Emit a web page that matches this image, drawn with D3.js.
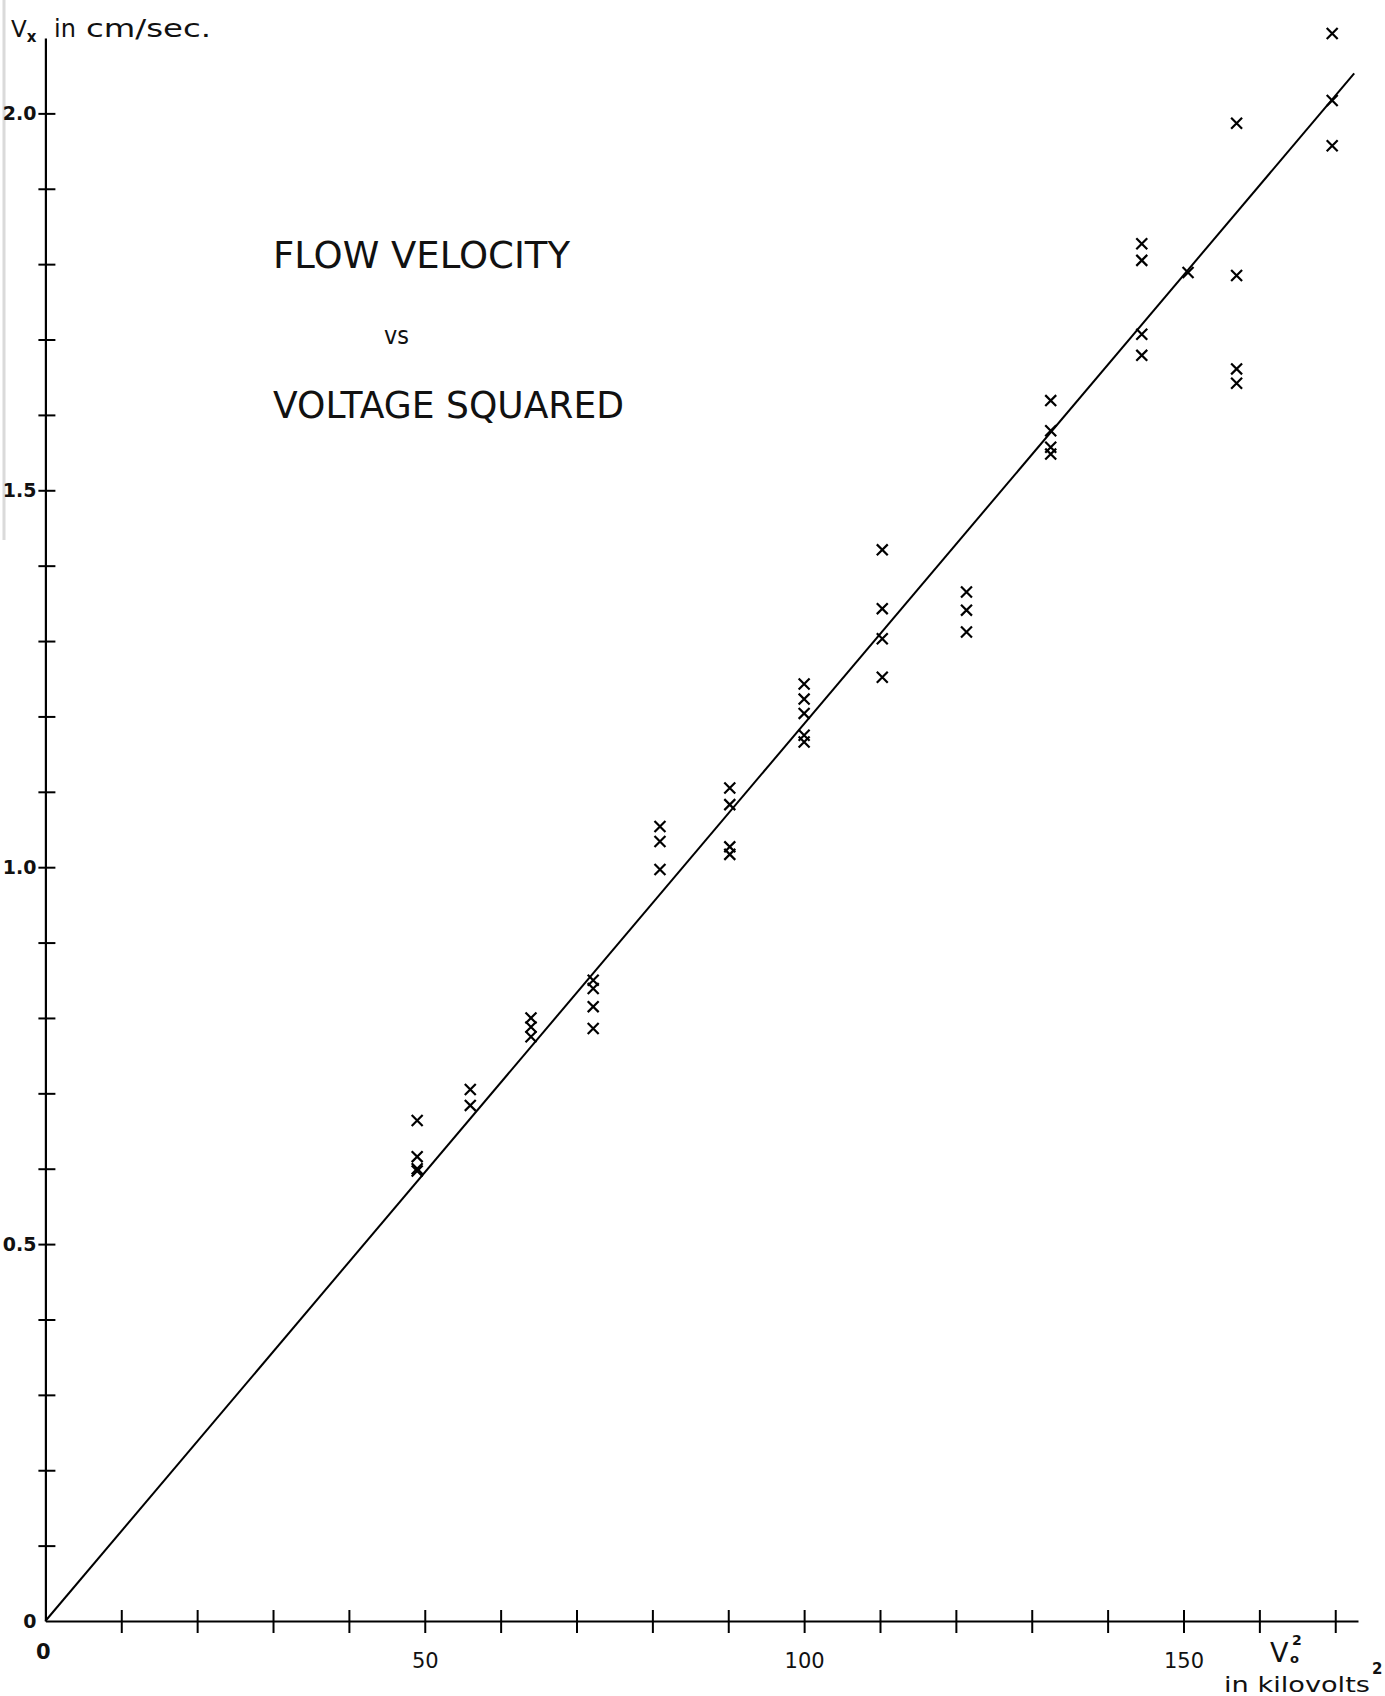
<!DOCTYPE html>
<html>
<head>
<meta charset="utf-8">
<script src="https://cdn.jsdelivr.net/npm/d3@7"></script>
<style>
  html, body { margin: 0; padding: 0; background: #fff; }
  svg { display: block; }
</style>
</head>
<body>
<svg id="chart" width="1385" height="1696"></svg>
<script>
// ---- data ----
const voltageSq = [
  49, 49, 49, 49,
  56, 56,
  64, 64, 64,
  72.2, 72.2, 72.2, 72.2,
  81, 81, 81,
  90.2, 90.2, 90.2, 90.2,
  100, 100, 100, 100, 100,
  110.3, 110.3, 110.3, 110.3,
  121.4, 121.4, 121.4,
  132.5, 132.5, 132.5, 132.5,
  144.5, 144.5, 144.5, 144.5,
  150.6,
  157, 157, 157, 157,
  169.6, 169.6, 169.6
];
const velocity = [
  0.664, 0.616, 0.600, 0.597,
  0.705, 0.684,
  0.800, 0.788, 0.775,
  0.850, 0.839, 0.815, 0.786,
  1.054, 1.034, 0.997,
  1.105, 1.083, 1.027, 1.017,
  1.243, 1.223, 1.204, 1.175, 1.166,
  1.421, 1.343, 1.303, 1.252,
  1.365, 1.341, 1.312,
  1.619, 1.579, 1.557, 1.548,
  1.827, 1.805, 1.707, 1.679,
  1.789,
  1.987, 1.785, 1.661, 1.642,
  2.106, 2.017, 1.957
];
const fitX = [0, 172.5];
const fitY = [0, 2.053];

const xTickValues = [0, 10, 20, 30, 40, 50, 60, 70, 80, 90, 100, 110, 120, 130, 140, 150, 160, 170];
const xTickLabels = {50: "50", 100: "100", 150: "150"};
const yTickValues = [0, 0.1, 0.2, 0.3, 0.4, 0.5, 0.6, 0.7, 0.8, 0.9, 1.0, 1.1, 1.2, 1.3, 1.4, 1.5, 1.6, 1.7, 1.8, 1.9, 2.0];
const yTickLabels = {0: "0", 0.5: "0.5", 1: "1.0", 1.5: "1.5", 2: "2.0"};

const titleLines = ["FLOW VELOCITY", "vs", "VOLTAGE SQUARED"];

// ---- layout ----
const svg = d3.select("#chart");
const font = "'DejaVu Sans', sans-serif";

const x = d3.scaleLinear().domain([0, 173]).range([45.4, 1358]);
const y = d3.scaleLinear().domain([0, 2.1]).range([1621, 38]);

// scan-edge shadow
svg.append("line").attr("x1", 4).attr("x2", 4).attr("y1", 0).attr("y2", 540)
  .attr("stroke", "#dadada").attr("stroke-width", 3);

// x axis
const xAxis = d3.axisBottom(x).tickValues(xTickValues)
  .tickFormat(d => xTickLabels[d] || "").tickSizeOuter(0);
const gx = svg.append("g").attr("transform", `translate(0,${y(0)})`).call(xAxis);
gx.select(".domain").attr("stroke", "#000").attr("stroke-width", 2.2);
gx.selectAll(".tick line").attr("y1", -11).attr("y2", 12)
  .attr("stroke", "#000").attr("stroke-width", 2)
  .filter(d => d === 0).remove();
gx.selectAll(".tick text").attr("y", 32).attr("dy", "0.71em")
  .attr("font-family", font).attr("font-size", 21).attr("fill", "#111");

// y axis
const yAxis = d3.axisLeft(y).tickValues(yTickValues)
  .tickFormat(d => yTickLabels[Math.round(d * 10) / 10] || "").tickSizeOuter(0);
const gy = svg.append("g").attr("transform", `translate(${x(0)},0)`).call(yAxis);
gy.select(".domain").attr("stroke", "#000").attr("stroke-width", 2.2);
gy.selectAll(".tick line").attr("x1", -7).attr("x2", 10)
  .attr("stroke", "#000").attr("stroke-width", 2)
  .filter(d => d === 0).remove();
gy.selectAll(".tick text").attr("x", -9)
  .attr("font-family", font).attr("font-size", 19).attr("font-weight", "bold").attr("fill", "#111");

// origin "0" under the x axis
svg.append("text").attr("x", x(0) - 2).attr("y", y(0) + 38)
  .attr("text-anchor", "middle").attr("font-family", font).attr("font-size", 21)
  .attr("font-weight", "bold").attr("fill", "#111").text("0");

// fit line
const line = d3.line().x(d => x(d[0])).y(d => y(d[1]));
svg.append("path").datum(fitX.map((v, i) => [v, fitY[i]]))
  .attr("d", line).attr("fill", "none").attr("stroke", "#000").attr("stroke-width", 2);

// data marks
const sym = d3.symbol().type(d3.symbolTimes).size(80);
svg.append("g").selectAll("path").data(voltageSq.map((v, i) => [v, velocity[i]]))
  .join("path")
  .attr("transform", d => `translate(${x(d[0])},${y(d[1])})`)
  .attr("d", sym).attr("fill", "none").attr("stroke", "#000").attr("stroke-width", 2.2);

// title
const tg = svg.append("g").attr("font-family", font).attr("fill", "#111");
tg.append("text").attr("x", 273).attr("y", 268).attr("font-size", 38)
  .attr("textLength", 297).attr("lengthAdjust", "spacingAndGlyphs").text(titleLines[0]);
tg.append("text").attr("x", 384).attr("y", 344).attr("font-size", 25)
  .attr("textLength", 25).attr("lengthAdjust", "spacingAndGlyphs").text(titleLines[1]);
tg.append("text").attr("x", 273).attr("y", 418).attr("font-size", 38)
  .attr("textLength", 351).attr("lengthAdjust", "spacingAndGlyphs").text(titleLines[2]);

// y axis title
const yt = svg.append("text").attr("x", 11).attr("y", 37)
  .attr("font-family", font).attr("font-size", 24).attr("fill", "#111");
yt.append("tspan").attr("font-size", 23).text("V");
yt.append("tspan").attr("font-size", 15).attr("dy", 5).attr("font-weight", "bold").text("x");
yt.append("tspan").attr("dy", -5).attr("x", 54).text("in");
yt.append("tspan").attr("x", 86).attr("textLength", 125).attr("lengthAdjust", "spacingAndGlyphs").text("cm/sec.");

// x axis title
const xg = svg.append("g").attr("font-family", font).attr("fill", "#111");
xg.append("text").attr("x", 1270).attr("y", 1662).attr("font-size", 27).text("V");
xg.append("text").attr("x", 1290).attr("y", 1663).attr("font-size", 13).attr("font-weight", "bold").text("o");
xg.append("text").attr("x", 1292).attr("y", 1645).attr("font-size", 14).attr("font-weight", "bold").text("2");
xg.append("text").attr("x", 1224).attr("y", 1692).attr("font-size", 22)
  .attr("textLength", 146).attr("lengthAdjust", "spacingAndGlyphs").text("in kilovolts");
xg.append("text").attr("x", 1372).attr("y", 1674).attr("font-size", 15).attr("font-weight", "bold").text("2");
</script>
</body>
</html>
